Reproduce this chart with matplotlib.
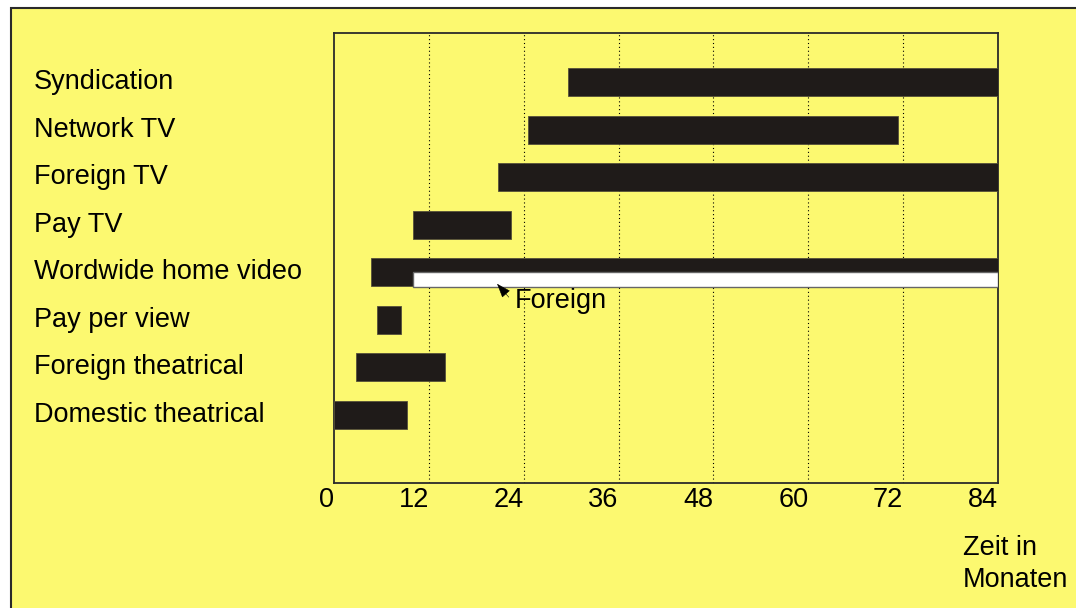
import matplotlib.pyplot as plt
from matplotlib.patches import Rectangle

# windows (months after release), bottom to top
categories = ["Domestic theatrical", "Foreign theatrical", "Pay per view",
              "Wordwide home video", "Pay TV", "Foreign TV", "Network TV",
              "Syndication"]
starts = [0, 2.75, 5.5, 4.7, 10.0, 20.7, 24.5, 29.6]
ends = [9.25, 14.1, 8.5, 84, 22.4, 84, 71.4, 84]

# foreign home video window (white bar inside the home video row)
foreign_video = (10.0, 84)
ticks = [0, 12, 24, 36, 48, 60, 72, 84]

YELLOW = "#FCF970"
BAR = "#1F1B19"
FONT = "Liberation Sans"
FS = 19.5

plt.rcParams["font.family"] = [FONT, "DejaVu Sans"]


def main():
    fig = plt.figure(figsize=(10.76, 6.08), dpi=100)
    fig.patch.set_facecolor("white")
    fig.patches.append(Rectangle((11 / 1076, -0.05), 1.1, (608 - 7.5) / 608 + 0.05,
                                 transform=fig.transFigure, facecolor=YELLOW,
                                 edgecolor="#2a2a2a", linewidth=1.5, zorder=-5))

    ax = fig.add_axes([334 / 1076, 1 - 483 / 608, 664 / 1076, 450 / 608])
    ax.set_facecolor(YELLOW)
    ax.set_zorder(1)

    y = list(range(len(categories)))
    widths = [e - s for s, e in zip(starts, ends)]
    ax.barh(y, widths, left=starts, height=0.59, color=BAR,
            edgecolor="#55503a", linewidth=0.6, zorder=3)

    # white foreign-video bar
    hv = categories.index("Wordwide home video")
    ax.barh(hv - 0.16, foreign_video[1] - foreign_video[0], left=foreign_video[0],
            height=0.32, color="white", edgecolor="#666666", linewidth=1.0, zorder=4)

    ax.annotate("", xy=(20.4, hv - 0.20), xytext=(22.35, hv - 0.57),
                arrowprops=dict(arrowstyle="-|>,head_length=0.6,head_width=0.22",
                                color="black", lw=0.4, mutation_scale=15),
                zorder=5)
    ax.text(22.9, hv - 0.33, "Foreign", fontsize=FS, ha="left", va="top",
            zorder=5)

    ax.set_xlim(0, 84)
    ax.set_ylim(-1.44, 8.04)
    ax.set_xticks(ticks)
    ax.set_xticklabels([str(t) for t in ticks], fontsize=FS)
    for lab in ax.get_xticklabels():
        lab.set_ha("right")
    ax.tick_params(axis="x", length=0, pad=3)
    ax.set_yticks([])

    for t in ticks[1:-1]:
        ax.axvline(t, color="black", linewidth=0.8, linestyle=(0, (1, 2.5)),
                   zorder=1)

    for sp in ax.spines.values():
        sp.set_color("#2a2a2a")
        sp.set_linewidth(1.3)

    # category labels at the left of the figure
    trans = ax.get_yaxis_transform()
    for yi, name in zip(y, categories):
        ax.text(-0.452, yi, name, transform=trans, fontsize=FS,
                ha="left", va="center", clip_on=False)

    fig.text(963 / 1076, 1 - 535 / 608, "Zeit in\nMonaten", fontsize=FS,
             ha="left", va="top", linespacing=1.3)

    fig.savefig("out.png", dpi=100, facecolor=fig.get_facecolor())
    plt.close(fig)


if __name__ == "__main__":
    main()
